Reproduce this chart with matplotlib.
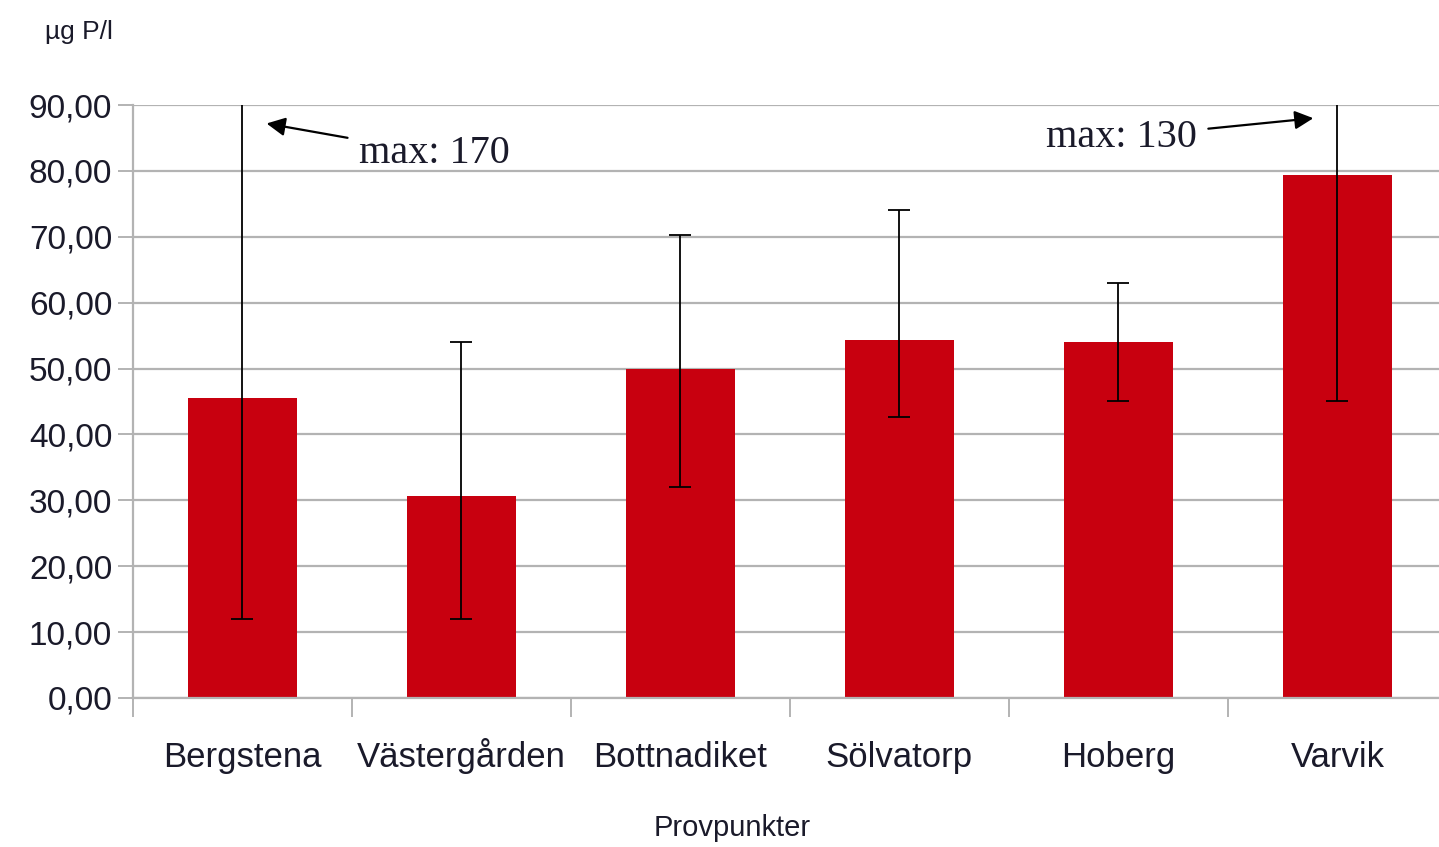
import matplotlib.pyplot as plt
from matplotlib.ticker import FuncFormatter, MultipleLocator, FixedLocator

# Data
sites = ['Bergstena', 'Västergården', 'Bottnadiket', 'Sölvatorp', 'Hoberg', 'Varvik']
mean_p = [45.5, 30.7, 50.0, 54.4, 54.0, 79.4]
min_p = [12.0, 12.0, 32.0, 42.7, 45.0, 45.0]
max_p = [170.0, 54.0, 70.2, 74.1, 63.0, 130.0]

bar_color = '#c8000f'
grid_color = '#b3b3b3'
text_color = '#1a1a2a'

plt.rcParams['font.family'] = ['Liberation Sans', 'DejaVu Sans']

fig = plt.figure(figsize=(14.39, 8.47), dpi=100)
# plot area runs a little past the right edge of the image, like the reference
ax = fig.add_axes([0.0924, 0.176, 0.9131, 0.700])

x = list(range(len(sites)))
lower = [m - lo for m, lo in zip(mean_p, min_p)]
upper = [hi - m for m, hi in zip(mean_p, max_p)]

ax.bar(x, mean_p, width=0.5, color=bar_color, zorder=2)
ax.errorbar(x, mean_p, yerr=[lower, upper], fmt='none', ecolor='black',
            elinewidth=1.3, capsize=8, capthick=1.3, zorder=3)

ax.set_xlim(-0.5, 5.5)
ax.set_ylim(0, 90)

# y axis
ax.yaxis.set_major_locator(MultipleLocator(10))
ax.yaxis.set_major_formatter(FuncFormatter(lambda v, p: f'{v:.2f}'.replace('.', ',')))
ax.grid(axis='y', color=grid_color, linewidth=1.6, zorder=0)
ax.set_axisbelow(True)

# x axis: labels centred on bars, tick marks between categories
ax.set_xticks(x)
ax.set_xticklabels(sites)
ax.xaxis.set_minor_locator(FixedLocator([i - 0.5 for i in range(len(sites) + 1)]))
ax.tick_params(axis='x', which='major', length=0, pad=50, labelsize=25, labelcolor=text_color)
ax.tick_params(axis='x', which='minor', length=14, width=1.4, color=grid_color)
ax.tick_params(axis='y', length=11, width=1.4, color=grid_color, pad=4,
               labelsize=24, labelcolor=text_color)
for lbl in ax.get_xticklabels():
    lbl.set_va('baseline')

for side in ['top', 'right']:
    ax.spines[side].set_visible(False)
for side in ['left', 'bottom']:
    ax.spines[side].set_color(grid_color)
    ax.spines[side].set_linewidth(1.6)

fig.text(0.509, 0.022, 'Provpunkter', fontsize=21, color=text_color, va='center', ha='center')
fig.text(0.031, 0.962, 'µg P/l', fontsize=19, color=text_color, va='center', ha='left')

# annotations for the clipped maxima
ax.annotate('max: 170', xy=(0.11, 87.2), xytext=(0.53, 82.7),
            fontsize=29, family=['Liberation Serif', 'DejaVu Serif'], color=text_color,
            va='center', ha='left',
            arrowprops=dict(arrowstyle='-|>', color='black', lw=1.6, mutation_scale=28,
                            shrinkA=6, shrinkB=0))
ax.annotate('max: 130', xy=(4.89, 88.0), xytext=(4.36, 85.1),
            fontsize=29, family=['Liberation Serif', 'DejaVu Serif'], color=text_color,
            va='center', ha='right',
            arrowprops=dict(arrowstyle='-|>', color='black', lw=1.6, mutation_scale=28,
                            shrinkA=6, shrinkB=0))

fig.savefig('out.png', dpi=100)
